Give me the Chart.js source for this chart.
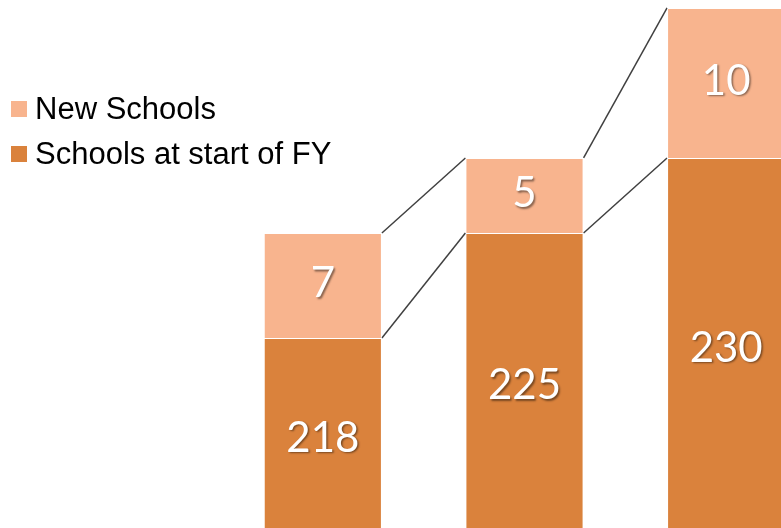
<!DOCTYPE html>
<html>
<head>
<meta charset="utf-8">
<script src="https://cdn.jsdelivr.net/npm/chart.js@4.4.1/dist/chart.umd.min.js"></script>
<style>
    html, body { margin: 0; padding: 0; overflow: hidden; background: #fff; }
    #wrap { position: relative; width: 827px; height: 542px; }
</style>
</head>
<body>
<div id="wrap"><canvas id="schoolsChart"></canvas></div>
<script>
const years = ['FY1', 'FY2', 'FY3'];
const startSchools = [218, 225, 230];
const newSchools = [7, 5, 10];

const seriesNames = ['Schools at start of FY', 'New Schools'];
const seriesColors = ['#DA823C', '#F8B48E'];

// thin grey lines joining the top of each segment to the next bar
const seriesLines = {
    id: 'seriesLines',
    beforeDatasetsDraw(chart) {
        const ctx = chart.ctx;
        ctx.save();
        ctx.strokeStyle = '#404040';
        ctx.lineWidth = 1.5;
        chart.data.datasets.forEach((ds, i) => {
            const bars = chart.getDatasetMeta(i).data;
            for (let j = 0; j < bars.length - 1; j++) {
                const a = bars[j], b = bars[j + 1];
                ctx.beginPath();
                ctx.moveTo(a.x + a.width / 2, a.y);
                ctx.lineTo(b.x - b.width / 2, b.y);
                ctx.stroke();
            }
        });
        ctx.restore();
    }
};

// value inside each segment (bottom segments are cut off by the chart area)
const segmentLabels = {
    id: 'segmentLabels',
    afterDatasetsDraw(chart) {
        const ctx = chart.ctx;
        const bottom = chart.chartArea.bottom;
        ctx.save();
        ctx.font = '42px Lato';
        ctx.fillStyle = '#ffffff';
        ctx.textAlign = 'center';
        ctx.textBaseline = 'middle';
        ctx.shadowColor = 'rgba(0,0,0,0.45)';
        ctx.shadowOffsetX = 1.5;
        ctx.shadowOffsetY = 1.5;
        ctx.shadowBlur = 2;
        chart.data.datasets.forEach((ds, i) => {
            chart.getDatasetMeta(i).data.forEach((bar, j) => {
                const mid = (bar.y + Math.min(bar.base, bottom)) / 2;
                ctx.fillText(String(ds.data[j]), bar.x, mid - 2);
            });
        });
        ctx.restore();
    }
};

// legend on the left, new schools listed first
const sideLegend = {
    id: 'sideLegend',
    afterDraw(chart) {
        const ctx = chart.ctx;
        ctx.save();
        ctx.font = '31px "Liberation Sans", Arial, sans-serif';
        ctx.textBaseline = 'alphabetic';
        ctx.textAlign = 'left';
        const order = [1, 0];
        order.forEach((i, k) => {
            const ds = chart.data.datasets[i];
            const base = 119 + k * 45;
            ctx.fillStyle = ds.backgroundColor;
            ctx.fillRect(11, base - 18, 16, 16);
            ctx.fillStyle = '#000000';
            ctx.fillText(ds.label, 35, base);
        });
        ctx.restore();
    }
};

new Chart(document.getElementById('schoolsChart'), {
    type: 'bar',
    data: {
        labels: years,
        datasets: [{
            label: seriesNames[0],
            data: startSchools,
            backgroundColor: seriesColors[0],
            borderColor: 'rgba(255,255,255,0.45)',
            borderWidth: 1
        }, {
            label: seriesNames[1],
            data: newSchools,
            backgroundColor: seriesColors[1],
            borderColor: 'rgba(255,255,255,0.45)',
            borderWidth: 1
        }]
    },
    options: {
        responsive: true,
        maintainAspectRatio: false,
        animation: false,
        layout: {
            padding: { left: 222, right: 0, top: 0, bottom: 0 }
        },
        datasets: {
            bar: {
                barPercentage: 0.586,
                categoryPercentage: 1
            }
        },
        scales: {
            x: { stacked: true, display: false },
            y: { stacked: true, display: false, min: 204.4, max: 240.53 }
        },
        plugins: {
            legend: { display: false },
            tooltip: { enabled: false }
        }
    },
    plugins: [seriesLines, segmentLabels, sideLegend]
});
</script>
</body>
</html>
